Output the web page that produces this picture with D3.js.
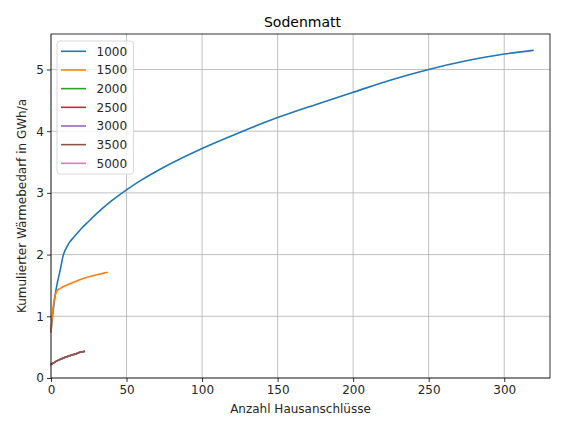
<!DOCTYPE html>
<html>
<head>
<meta charset="utf-8">
<script src="https://cdn.jsdelivr.net/npm/d3@7"></script>
<style>
  html, body { margin: 0; padding: 0; background: #fff; }
  svg { display: block; font-family: "DejaVu Sans", sans-serif; }
</style>
</head>
<body>
<div id="chart"></div>
<script>
const title = "Sodenmatt";
const xLabel = "Anzahl Hausanschlüsse";
const yLabel = "Kumulierter Wärmebedarf in GWh/a";
const seriesNames = ["1000", "1500", "2000", "2500", "3000", "3500", "5000"];
const seriesColors = ["#1f77b4", "#ff7f0e", "#2ca02c", "#d62728", "#9467bd", "#8c564b", "#e377c2"];
const xTicks = [0, 50, 100, 150, 200, 250, 300];
const yTicks = [0, 1, 2, 3, 4, 5];

const x1000 = [0, 1, 2, 3, 4, 5, 6, 7, 8, 9, 10, 12, 15, 20, 25, 30, 40, 50, 60, 75, 100, 125, 150, 175, 200, 225, 250, 275, 300, 319];
const y1000 = [0.75, 1.0, 1.2, 1.38, 1.52, 1.63, 1.74, 1.86, 1.98, 2.05, 2.1, 2.19, 2.28, 2.42, 2.54, 2.66, 2.87, 3.05, 3.21, 3.42, 3.72, 3.98, 4.22, 4.43, 4.63, 4.83, 5.0, 5.14, 5.25, 5.31];
const x1500 = [0, 1, 2, 3, 4, 6, 10, 15, 20, 25, 30, 35, 37];
const y1500 = [0.75, 1.05, 1.25, 1.36, 1.41, 1.45, 1.5, 1.55, 1.6, 1.64, 1.67, 1.70, 1.71];
const xLow = [0, 2, 5, 10, 15, 20, 22];
const yLow = [0.22, 0.25, 0.29, 0.34, 0.38, 0.42, 0.43];
const x5000 = [];
const y5000 = [];

const seriesX = [x1000, x1500, xLow, xLow, xLow, xLow, x5000];
const seriesY = [y1000, y1500, yLow, yLow, yLow, yLow, y5000];

const W = 570, H = 427;
const m = { left: 51, right: 20, top: 34, bottom: 49 };

const svg = d3.select("#chart").append("svg").attr("width", W).attr("height", H);

const x = d3.scaleLinear().domain([0, 330.3]).range([m.left, W - m.right]);
const y = d3.scaleLinear().domain([0, 5.575]).range([H - m.bottom, m.top]);

// grid
const g = svg.append("g");
g.selectAll(".gx").data(xTicks).enter().append("line")
  .attr("x1", d => x(d)).attr("x2", d => x(d))
  .attr("y1", y.range()[0]).attr("y2", y.range()[1])
  .attr("stroke", "#b0b0b0").attr("stroke-width", 0.8);
g.selectAll(".gy").data(yTicks).enter().append("line")
  .attr("y1", d => y(d)).attr("y2", d => y(d))
  .attr("x1", x.range()[0]).attr("x2", x.range()[1])
  .attr("stroke", "#b0b0b0").attr("stroke-width", 0.8);

// lines
const line = d3.line().x(d => x(d[0])).y(d => y(d[1])).curve(d3.curveMonotoneX);
seriesNames.forEach((name, i) => {
  const pts = seriesX[i].map((v, j) => [v, seriesY[i][j]]);
  if (!pts.length) return;
  svg.append("path").datum(pts)
    .attr("d", line)
    .attr("fill", "none")
    .attr("stroke", seriesColors[i])
    .attr("stroke-width", 1.6)
    .attr("stroke-linecap", "square");
});

// axes
const xAxis = d3.axisBottom(x).tickValues(xTicks).tickSize(4).tickPadding(3).tickFormat(d3.format("d"));
const yAxis = d3.axisLeft(y).tickValues(yTicks).tickSize(4).tickPadding(3).tickFormat(d3.format("d"));
const gx = svg.append("g").attr("transform", `translate(0,${H - m.bottom})`).call(xAxis);
const gy = svg.append("g").attr("transform", `translate(${m.left},0)`).call(yAxis);
[gx, gy].forEach(a => {
  a.select(".domain").remove();
  a.selectAll(".tick line").attr("stroke", "#000").attr("stroke-width", 0.8);
  a.selectAll(".tick text").attr("fill", "#262626").style("font-size", "12px").style("font-family", "DejaVu Sans");
});

// frame
svg.append("rect")
  .attr("x", m.left).attr("y", m.top)
  .attr("width", W - m.right - m.left).attr("height", H - m.bottom - m.top)
  .attr("fill", "none").attr("stroke", "#000").attr("stroke-width", 0.8);

// title & labels
svg.append("text").attr("x", (m.left + W - m.right) / 2 + 2).attr("y", 27)
  .attr("text-anchor", "middle").style("font-size", "14px").attr("fill", "#000").text(title);
svg.append("text").attr("x", (m.left + W - m.right) / 2).attr("y", 413)
  .attr("text-anchor", "middle").style("font-size", "12px").attr("fill", "#262626").text(xLabel);
svg.append("text").attr("transform", `translate(26,${(m.top + H - m.bottom) / 2}) rotate(-90)`)
  .attr("text-anchor", "middle").style("font-size", "12px").attr("fill", "#262626").text(yLabel);

// legend
const lg = svg.append("g").attr("transform", "translate(57,41)");
lg.append("rect").attr("width", 76.5).attr("height", 133).attr("rx", 3)
  .attr("fill", "#fff").attr("fill-opacity", 0.8).attr("stroke", "#d9d9d9").attr("stroke-width", 1);
seriesNames.forEach((name, i) => {
  const yy = 10.3 + i * 18.67;
  lg.append("line").attr("x1", 4).attr("x2", 29).attr("y1", yy).attr("y2", yy)
    .attr("stroke", seriesColors[i]).attr("stroke-width", 1.6);
  lg.append("text").attr("x", 39.5).attr("y", yy + 4.3)
    .style("font-size", "12px").attr("fill", "#262626").text(name);
});
</script>
</body>
</html>
